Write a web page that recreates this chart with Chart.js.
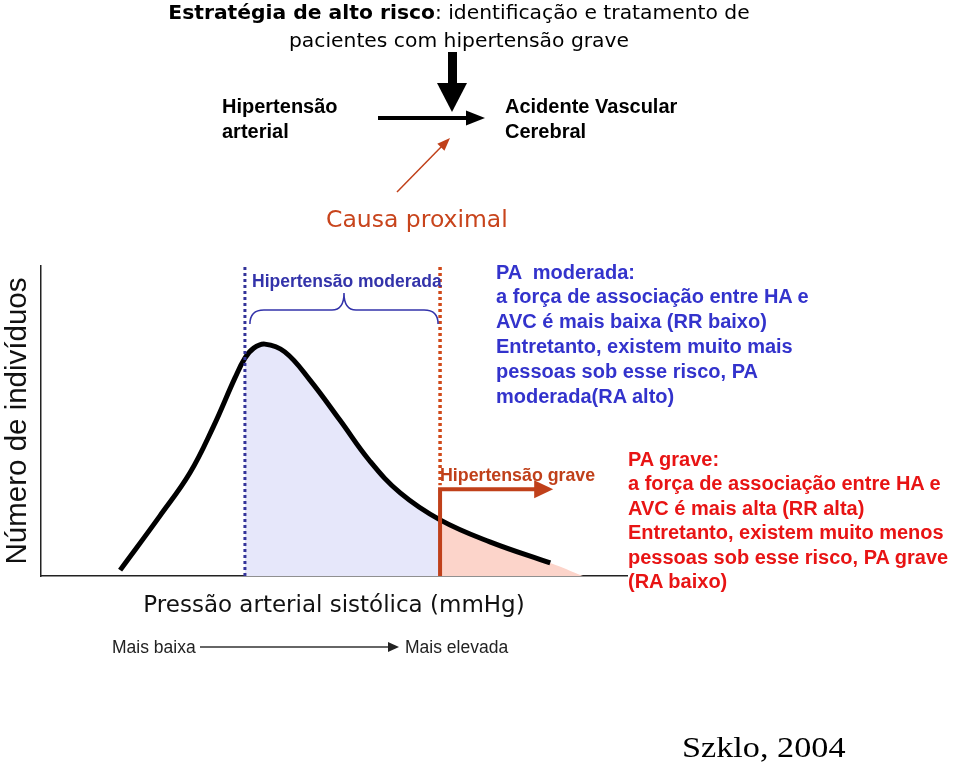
<!DOCTYPE html>
<html>
<head>
<meta charset="utf-8">
<script src="https://cdn.jsdelivr.net/npm/chart.js@4"></script>
<style>
  body { margin: 0; background: #fff; }
  #wrap { position: relative; width: 960px; height: 768px; overflow: hidden; background: #fff; }
  #chart { position: absolute; left: 0; top: 0; }
  .t { position: absolute; white-space: pre; font-family: "Liberation Sans", Arial, sans-serif; color: #000; }
  .b { font-weight: bold; }
</style>
</head>
<body>
<div id="wrap">
  <canvas id="chart" width="960" height="768"></canvas>

  <div class="t" style="left:0; width:918px; top:-2px; font-family:'DejaVu Sans'; font-size:20.3px; line-height:28px; text-align:center;"><b>Estratégia de alto risco</b>: identificação e tratamento de
pacientes com hipertensão grave</div>

  <div class="t b" style="left:222px; top:93.5px; font-size:20px; line-height:25px;">Hipertensão
arterial</div>
  <div class="t b" style="left:505px; top:93.5px; font-size:20px; line-height:25px;">Acidente Vascular
Cerebral</div>
  <div class="t" style="left:326px; top:204px; font-family:'DejaVu Sans'; font-size:23.5px; line-height:30px; color:#c8441c;">Causa proximal</div>

  <div class="t b" style="left:252px; top:271px; font-size:17.5px; line-height:20px; color:#3333aa;">Hipertensão moderada</div>
  <div class="t b" style="left:440px; top:465px; font-size:17.8px; line-height:20px; color:#c0401a;">Hipertensão grave</div>

  <div class="t b" style="left:496px; top:259.6px; font-size:20px; line-height:24.8px; color:#3333cc;">PA  moderada:
a força de associação entre HA e
AVC é mais baixa (RR baixo)
Entretanto, existem muito mais
pessoas sob esse risco, PA
moderada(RA alto)</div>

  <div class="t b" style="left:628px; top:446.8px; font-size:20px; line-height:24.5px; color:#e81414;">PA grave:
a força de associação entre HA e
AVC é mais alta (RR alta)
Entretanto, existem muito menos
pessoas sob esse risco, PA grave
(RA baixo)</div>

  <div class="t" style="left:112px; top:637px; font-size:17.5px; line-height:20px; color:#222;">Mais baixa</div>
  <div class="t" style="left:405px; top:637px; font-size:17.5px; line-height:20px; color:#222;">Mais elevada</div>

  <div class="t" style="left:682px; top:730px; font-family:'Liberation Serif', serif; font-size:29px; line-height:34px; transform:scaleX(1.18); transform-origin:0 0;">Szklo, 2004</div>
</div>

<script>
// distribution of systolic pressure (arbitrary units)
const curveX = [13.5, 20.3, 25.4, 29.4, 33.1, 34.8, 36.3, 38.2, 41.6, 45.9, 51.0, 56.1, 61.3, 68.1, 76.6, 86.9];
const curveY = [1.9, 19.4, 33.2, 48.1, 63.9, 70.3, 73.5, 74.8, 72.3, 63.2, 50.3, 37.1, 26.8, 18.1, 11.0, 4.2];

// cut points
const moderateStart = 34.8;
const severeStart = 68.1;

// pink area keeps going past the end of the curve
const severeTailX = [92.5];
const severeTailY = [0];

// the arrow for "Hipertensão grave"
const severeArrowY = 28;
const severeArrowEnd = 87.4;

const curve = curveX.map((x, i) => ({x: x, y: curveY[i]}));
const moderateArea = curve.filter(p => p.x >= moderateStart && p.x <= severeStart);
const severeArea = curve.filter(p => p.x >= severeStart)
  .concat(severeTailX.map((x, i) => ({x: x, y: severeTailY[i]})));

function arrowHead(ctx, x1, y1, x2, y2, len, half) {
  const a = Math.atan2(y2 - y1, x2 - x1);
  ctx.beginPath();
  ctx.moveTo(x2, y2);
  ctx.lineTo(x2 - len * Math.cos(a) + half * Math.sin(a), y2 - len * Math.sin(a) - half * Math.cos(a));
  ctx.lineTo(x2 - len * Math.cos(a) - half * Math.sin(a), y2 - len * Math.sin(a) + half * Math.cos(a));
  ctx.closePath();
  ctx.fill();
}

const marks = {
  id: 'marks',
  afterDatasetsDraw(chart) {
    const {ctx, chartArea: a, scales: {x, y}} = chart;
    const xm = x.getPixelForValue(moderateStart);
    const xs = x.getPixelForValue(severeStart);
    const ya = y.getPixelForValue(severeArrowY);
    const xe = x.getPixelForValue(severeArrowEnd);

    ctx.save();
    // blue dotted line
    ctx.setLineDash([3, 3]);
    ctx.strokeStyle = '#333399';
    ctx.lineWidth = 3;
    ctx.beginPath();
    ctx.moveTo(xm, a.top + 1);
    ctx.lineTo(xm, a.bottom);
    ctx.stroke();

    // red dotted line
    ctx.strokeStyle = '#d04818';
    ctx.lineWidth = 3.5;
    ctx.beginPath();
    ctx.moveTo(xs, a.top + 1);
    ctx.lineTo(xs, ya - 4);
    ctx.stroke();
    ctx.setLineDash([]);

    // red elbow arrow
    ctx.strokeStyle = '#c0401a';
    ctx.fillStyle = '#c0401a';
    ctx.lineWidth = 4;
    ctx.beginPath();
    ctx.moveTo(xs, a.bottom);
    ctx.lineTo(xs, ya);
    ctx.lineTo(xe - 16, ya);
    ctx.stroke();
    arrowHead(ctx, xs, ya, xe, ya, 19, 9);

    // brace over the moderate zone
    const bx0 = xm + 5, bx1 = xs - 2, bm = (bx0 + bx1) / 2;
    const yEnd = a.top + 58, yMid = a.top + 44, yTip = a.top + 27;
    ctx.strokeStyle = '#3333aa';
    ctx.lineWidth = 1.5;
    ctx.beginPath();
    ctx.moveTo(bx0, yEnd);
    ctx.quadraticCurveTo(bx0, yMid, bx0 + 14, yMid);
    ctx.lineTo(bm - 12, yMid);
    ctx.quadraticCurveTo(bm, yMid, bm, yTip);
    ctx.quadraticCurveTo(bm, yMid, bm + 12, yMid);
    ctx.lineTo(bx1 - 14, yMid);
    ctx.quadraticCurveTo(bx1, yMid, bx1, yEnd);
    ctx.stroke();
    ctx.restore();
  },
  afterDraw(chart) {
    const ctx = chart.ctx;
    ctx.save();
    // big arrow from the title
    ctx.fillStyle = '#000';
    ctx.fillRect(448, 52, 9, 33);
    ctx.beginPath();
    ctx.moveTo(437, 83);
    ctx.lineTo(467, 83);
    ctx.lineTo(452, 112);
    ctx.closePath();
    ctx.fill();

    // HA -> AVC
    ctx.strokeStyle = '#000';
    ctx.lineWidth = 4;
    ctx.beginPath();
    ctx.moveTo(378, 118);
    ctx.lineTo(468, 118);
    ctx.stroke();
    arrowHead(ctx, 378, 118, 485, 118, 19, 7.5);

    // causa proximal
    ctx.strokeStyle = '#c0401a';
    ctx.fillStyle = '#c0401a';
    ctx.lineWidth = 1.5;
    ctx.beginPath();
    ctx.moveTo(397, 192);
    ctx.lineTo(443, 145);
    ctx.stroke();
    arrowHead(ctx, 397, 192, 450, 138, 13, 5);

    // mais baixa -> mais elevada
    ctx.strokeStyle = '#333';
    ctx.fillStyle = '#222';
    ctx.lineWidth = 1.5;
    ctx.beginPath();
    ctx.moveTo(200, 647);
    ctx.lineTo(390, 647);
    ctx.stroke();
    arrowHead(ctx, 200, 647, 399, 647, 11, 5);
    ctx.restore();
  }
};

Chart.defaults.font.family = "'Liberation Sans', Arial, sans-serif";

const ChartEl = document.getElementById("chart");
new Chart(ChartEl, {
  type: "line",
  data: {
    datasets: [
      {
        label: 'Distribuição',
        data: curve,
        borderColor: '#000',
        borderWidth: 5,
        pointRadius: 0,
        fill: false,
        tension: 0.4
      },
      {
        label: 'Hipertensão moderada',
        data: moderateArea,
        borderWidth: 0,
        borderColor: 'rgba(0,0,0,0)',
        backgroundColor: '#e6e7fa',
        pointRadius: 0,
        fill: 'origin',
        tension: 0.4
      },
      {
        label: 'Hipertensão grave',
        data: severeArea,
        borderWidth: 0,
        borderColor: 'rgba(0,0,0,0)',
        backgroundColor: '#fcd4ca',
        pointRadius: 0,
        fill: 'origin',
        tension: 0.4
      }
    ]
  },
  options: {
    responsive: false,
    animation: false,
    layout: {
      padding: {left: 0, top: 266, right: 333, bottom: 144.4}
    },
    plugins: {
      legend: {display: false},
      tooltip: {enabled: false}
    },
    scales: {
      x: {
        type: 'linear',
        min: 0,
        max: 100,
        ticks: {display: false},
        grid: {display: false, drawTicks: false},
        border: {display: true, color: '#222', width: 1.5},
        title: {
          display: true,
          text: 'Pressão arterial sistólica (mmHg)',
          color: '#111',
          font: {family: "'DejaVu Sans'", size: 23},
          padding: {top: 16, bottom: 4}
        }
      },
      y: {
        min: 0,
        max: 100,
        ticks: {display: false},
        grid: {display: false, drawTicks: false},
        border: {display: true, color: '#222', width: 1.5},
        title: {
          display: true,
          text: 'Número de indivíduos',
          color: '#111',
          font: {size: 29.5},
          padding: {top: 0.5, bottom: 5.1}
        }
      }
    }
  },
  plugins: [marks]
});
</script>
</body>
</html>
